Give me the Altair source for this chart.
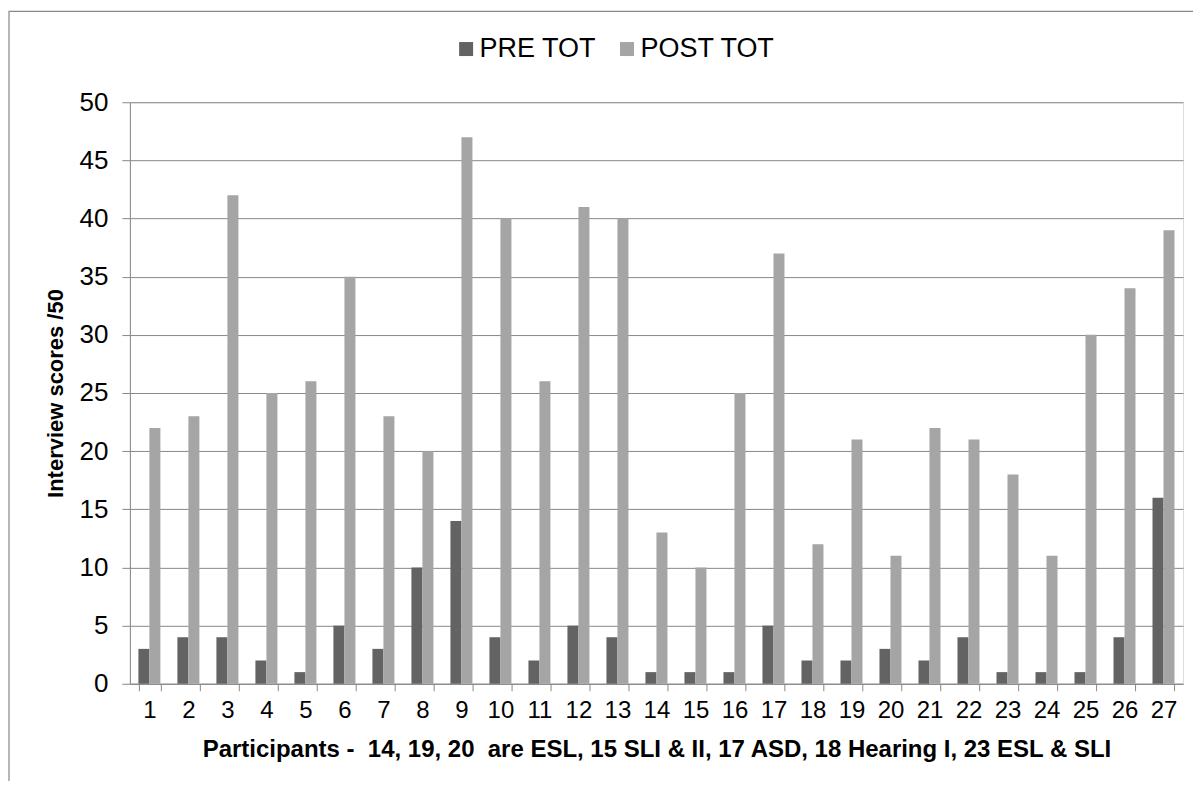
import altair as alt
import pandas as pd

participants = [str(i) for i in range(1, 28)]
pre_tot = [3, 4, 4, 2, 1, 5, 3, 10, 14, 4, 2, 5, 4, 1, 1, 1, 5, 2, 2, 3, 2, 4, 1, 1, 1, 4, 16]
post_tot = [22, 23, 42, 25, 26, 35, 23, 20, 47, 40, 26, 41, 40, 13, 10, 25, 37, 12, 21, 11, 22, 21, 18, 11, 30, 34, 39]
series = ["PRE TOT", "POST TOT"]
colors = ["#636363", "#a5a5a5"]
y_ticks = list(range(0, 51, 5))
x_title = "Participants -\u00a0 14, 19, 20\u00a0 are ESL, 15 SLI & II, 17 ASD, 18 Hearing I, 23 ESL & SLI"

rows = []
for p, a, b in zip(participants, pre_tot, post_tot):
    rows.append({"participant": p, "series": series[0], "score": a})
    rows.append({"participant": p, "series": series[1], "score": b})
df = pd.DataFrame(rows)

W, H = 1054, 582
FONT = "Liberation Sans"
GRAY = "#888888"

bars = alt.Chart(df).mark_bar().encode(
    x=alt.X("participant:O", sort=participants,
            scale=alt.Scale(paddingInner=0.436, paddingOuter=0.218),
            axis=alt.Axis(title=x_title,
                          labelAngle=0, labelFontSize=24, labelColor="#000000",
                          labelPadding=8, tickBand="extent", tickSize=7,
                          tickColor=GRAY, domainColor=GRAY, grid=False,
                          titleFontSize=24, titleFontWeight="bold", titleColor="#000000",
                          titleY=73, titleBaseline="alphabetic")),
    xOffset=alt.XOffset("series:N", sort=series, scale=alt.Scale(domain=series, paddingInner=0, paddingOuter=0)),
    y=alt.Y("score:Q", scale=alt.Scale(domain=[0, 50], nice=False),
            axis=alt.Axis(title="Interview scores /50", values=y_ticks,
                          labelFontSize=26, labelColor="#000000", labelPadding=14,
                          tickSize=8, tickColor=GRAY, domainColor=GRAY,
                          grid=True, gridColor=GRAY,
                          titleFontSize=22, titleFontWeight="bold", titleColor="#000000",
                          titleX=-74, titleY=H / 2, titleAngle=-90, titleBaseline="middle")),
    color=alt.Color("series:N", sort=series,
                    scale=alt.Scale(domain=series, range=colors),
                    legend=alt.Legend(title=None, orient="none", legendX=323, legendY=-67,
                                      direction="horizontal", symbolType="square",
                                      symbolSize=196, symbolStrokeWidth=0, symbolOpacity=1,
                                      labelFontSize=27, labelColor="#000000", labelOffset=0,
                                      columnPadding=17)),
)

border = alt.Chart(pd.DataFrame({"a": [0]})).mark_rect(
    fill=None, stroke=GRAY, strokeWidth=1.2
).encode(
    x=alt.value(-121), x2=alt.value(W + 200),
    y=alt.value(-91), y2=alt.value(H + 300),
)

chart = alt.layer(border, bars).properties(
    width=W, height=H,
    autosize=alt.AutoSizeParams(type="none"),
    padding={"left": 122, "top": 94, "right": 10, "bottom": 97},
).configure_view(stroke=None).configure(font=FONT)

chart.save("out.html", embed_options={"renderer": "svg", "actions": False})
